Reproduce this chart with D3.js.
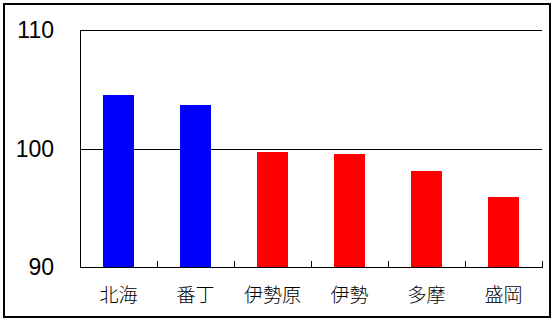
<!DOCTYPE html>
<html lang="ja">
<head>
  <meta charset="UTF-8">
  <script src="https://d3js.org/d3.v7.min.js"></script>
  <style>
    body { margin: 0; background: #fff; }
    svg line, svg rect { shape-rendering: crispEdges; }
    .cat { font-family: "Noto Sans CJK JP", sans-serif; font-size: 19px; font-weight: 300; }
    .ylab { font-family: "Liberation Sans", Arial, sans-serif; font-size: 23px; }
  </style>
  <title>Bar chart</title>
</head>
<body>
<div id="chart"></div>
<script>
  // data
  var categories = ["北海", "番丁", "伊勢原", "伊勢", "多摩", "盛岡"];
  var values = [104.5, 103.7, 99.7, 99.5, 98.1, 95.9];
  var barColors = ["#0000ff", "#0000ff", "#ff0000", "#ff0000", "#ff0000", "#ff0000"];
  var yTicks = [90, 100, 110];

  var width = 555, height = 323;
  var plotLeft = 80, plotRight = 542, plotTop = 30, plotBottom = 267;

  var svg = d3.select("#chart").append("svg")
      .attr("width", width)
      .attr("height", height);

  // outer frame
  svg.append("rect")
      .attr("x", 4).attr("y", 4)
      .attr("width", 546).attr("height", 313)
      .attr("fill", "none").attr("stroke", "#000").attr("stroke-width", 2);

  var x = d3.scaleBand()
      .domain(categories)
      .range([plotLeft, plotRight])
      .paddingInner(0.6)
      .paddingOuter(0.3);

  var y = d3.scaleLinear()
      .domain([90, 110])
      .range([plotBottom, plotTop]);

  // gridlines (100 and 110)
  svg.selectAll(".grid")
      .data(yTicks.slice(1))
      .enter().append("line")
      .attr("x1", plotLeft).attr("x2", plotRight)
      .attr("y1", function(d) { return Math.round(y(d)) + 0.5; })
      .attr("y2", function(d) { return Math.round(y(d)) + 0.5; })
      .attr("stroke", "#000");

  // bars
  svg.selectAll(".bar")
      .data(values)
      .enter().append("rect")
      .attr("x", function(d, i) { return x(categories[i]); })
      .attr("width", x.bandwidth())
      .attr("y", function(d) { return y(d); })
      .attr("height", function(d) { return plotBottom - y(d); })
      .attr("fill", function(d, i) { return barColors[i]; });

  // left axis line
  svg.append("line")
      .attr("x1", plotLeft + 0.5).attr("x2", plotLeft + 0.5)
      .attr("y1", plotTop).attr("y2", plotBottom + 1)
      .attr("stroke", "#000");

  // bottom axis line
  svg.append("line")
      .attr("x1", plotLeft).attr("x2", plotRight + 1)
      .attr("y1", plotBottom + 0.5).attr("y2", plotBottom + 0.5)
      .attr("stroke", "#000").attr("stroke-width", 1.5);

  // tick marks between categories (pointing up)
  svg.selectAll(".xtick")
      .data(categories)
      .enter().append("line")
      .attr("x1", function(d) { return Math.round(x(d) + x.bandwidth() + x.step() * 0.3) + 0.5; })
      .attr("x2", function(d) { return Math.round(x(d) + x.bandwidth() + x.step() * 0.3) + 0.5; })
      .attr("y1", plotBottom).attr("y2", plotBottom - 6)
      .attr("stroke", "#000");

  // category labels
  svg.selectAll(".cat")
      .data(categories)
      .enter().append("text")
      .attr("class", "cat")
      .attr("x", function(d) { return x(d) + x.bandwidth() / 2; })
      .attr("y", 295)
      .attr("dy", "0.35em")
      .attr("text-anchor", "middle")
      .text(function(d) { return d; });

  // y labels
  svg.selectAll(".ylab")
      .data(yTicks)
      .enter().append("text")
      .attr("class", "ylab")
      .attr("x", 54)
      .attr("y", function(d) { return y(d); })
      .attr("dy", "0.36em")
      .attr("text-anchor", "end")
      .text(function(d) { return d; });
</script>
</body>
</html>
